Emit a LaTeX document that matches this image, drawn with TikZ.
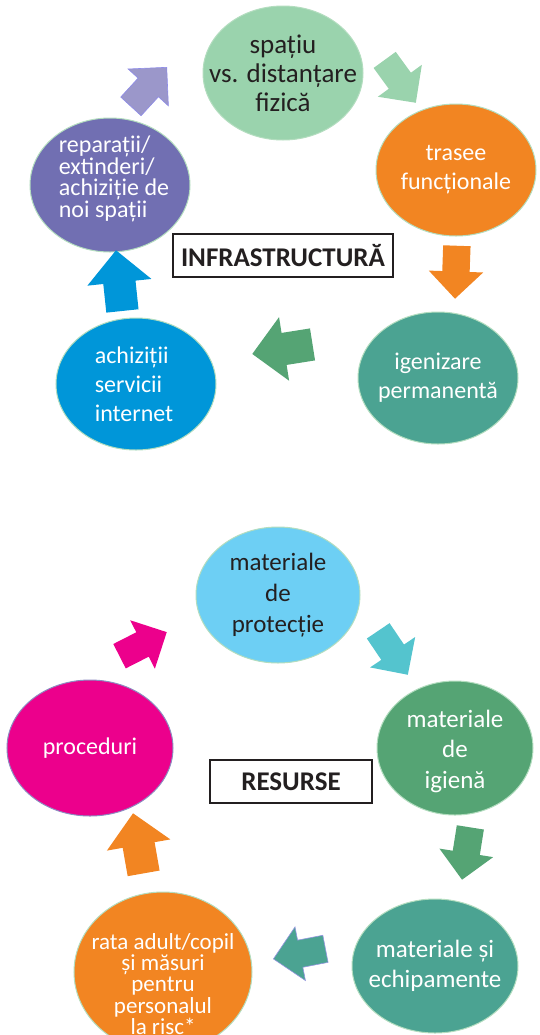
\documentclass[tikz,border=0pt]{standalone}
\usepackage{fontspec}
\setmainfont{Carlito}
\usetikzlibrary{shapes.geometric,shapes.arrows}
\definecolor{mint}{HTML}{9AD3AD}
\definecolor{tangerine}{HTML}{F28522}
\definecolor{violet}{HTML}{716FB2}
\definecolor{lilac}{HTML}{9B97CA}
\definecolor{teal}{HTML}{4BA392}
\definecolor{ocean}{HTML}{0096D9}
\definecolor{leaf}{HTML}{55A474}
\definecolor{sky}{HTML}{6DCFF4}
\definecolor{aqua}{HTML}{54C4CE}
\definecolor{magenta}{HTML}{EC008C}
\definecolor{rim}{HTML}{B3DDBF}
\definecolor{ink}{HTML}{231F20}
\tikzset{
  bubble/.style={ellipse,draw=rim,line width=1bp,fill=#1,inner sep=0pt},
  lighttxt/.style={text=white,align=center,inner sep=0pt,font=\fontsize{24bp}{29bp}\selectfont},
  darktxt/.style={lighttxt,text=ink},
  flow/.style={single arrow,fill=#1,inner sep=0pt,inner ysep=13.5bp,
    single arrow head extend=13.5bp,single arrow tip angle=90,
    minimum height=53bp,minimum width=0pt,anchor=tip},
  bigflow/.style={flow=#1,inner ysep=16bp,single arrow head extend=16bp,minimum height=61bp},
  titlebox/.style={draw=ink,line width=1.2bp,inner sep=0pt,text=ink,
    font=\fontsize{27bp}{29bp}\selectfont\bfseries}
}
\begin{document}
\begin{tikzpicture}[x=1bp,y=-1bp]
\useasboundingbox (0,0) rectangle (540,1035);
\clip (0,0) rectangle (540,1035);
% infrastructura
\node[bubble=mint,minimum width=160bp,minimum height=134bp] (spatiu) at (283,73) {};
\node[darktxt,font=\fontsize{27bp}{29bp}\selectfont] (spatiu-t) at (spatiu) {spațiu\\vs. distanțare\\fizică};
\node[bubble=tangerine,minimum width=160bp,minimum height=132bp] (trasee) at (456,170) {};
\node[lighttxt] (trasee-t) at (trasee) {trasee\\funcționale};
\node[bubble=teal,minimum width=160bp,minimum height=132bp] (igien) at (438,378) {};
\node[lighttxt] (igien-t) at (igien) {igenizare\\permanentă};
\node[bubble=ocean,minimum width=160bp,minimum height=132bp] (internet) at (136,384) {};
\node[lighttxt,align=left] (internet-t) at (134,384) {achiziții\\servicii\\internet};
\node[bubble=violet,minimum width=160bp,minimum height=134bp] (reparatii) at (110,185) {};
\node[lighttxt,align=left,font=\fontsize{24bp}{21.5bp}\selectfont] (reparatii-t) at (114,179) {reparații/\\extinderi/\\achiziție de\\noi spații};
\node[titlebox,minimum width=220bp,minimum height=43bp] (infra) at (283,255.5) {INFRASTRUCTURĂ};
\node[flow=lilac,draw=lilac!60!blue!70,line width=.6bp,rotate=47.5] (a1) at (167,67) {};
\node[flow=mint,rotate=-54] (a2) at (416,103) {};
\node[flow=tangerine,rotate=-92] (a3) at (455,299) {};
\node[bigflow=leaf,rotate=189] (a4) at (252,354) {};
\node[bigflow=ocean,rotate=96] (a5) at (116,250) {};
% resurse
\node[bubble=sky,minimum width=164bp,minimum height=136bp] (protectie) at (278,595) {};
\node[darktxt,font=\fontsize{25bp}{31bp}\selectfont] (protectie-t) at (protectie) {materiale\\de\\protecție};
\node[bubble=leaf,minimum width=156bp,minimum height=134bp] (igiena) at (455,748) {};
\node[lighttxt,font=\fontsize{25bp}{30.5bp}\selectfont] (igiena-t) at (455,751) {materiale\\de\\igienă};
\node[bubble=teal,minimum width=166bp,minimum height=134bp] (echip) at (435,966) {};
\node[lighttxt,font=\fontsize{25bp}{30bp}\selectfont] (echip-t) at (echip) {materiale și\\echipamente};
\node[bubble=tangerine,minimum width=178bp,minimum height=160bp] (rata) at (163,972) {};
\node[lighttxt,font=\fontsize{23bp}{21.3bp}\selectfont] (rata-t) at (163,984) {rata adult/copil\\și măsuri\\pentru\\personalul\\la risc*};
\node[bubble=magenta,draw=violet!80,minimum width=166bp,minimum height=136bp] (proceduri) at (90,748) {};
\node[lighttxt] (proceduri-t) at (proceduri) {proceduri};
\node[titlebox,minimum width=162bp,minimum height=43bp] (resurse) at (291,781.5) {RESURSE};
\node[flow=magenta,rotate=27] (b1) at (167,632) {};
\node[flow=aqua,rotate=-56] (b2) at (408,675) {};
\node[flow=leaf,rotate=-99] (b3) at (462,880) {};
\node[flow=teal,draw=violet!70!blue!60,line width=.6bp,rotate=191] (b4) at (273,959) {};
\node[bigflow=tangerine,rotate=100] (b5) at (133,813) {};
\end{tikzpicture}
\end{document}
